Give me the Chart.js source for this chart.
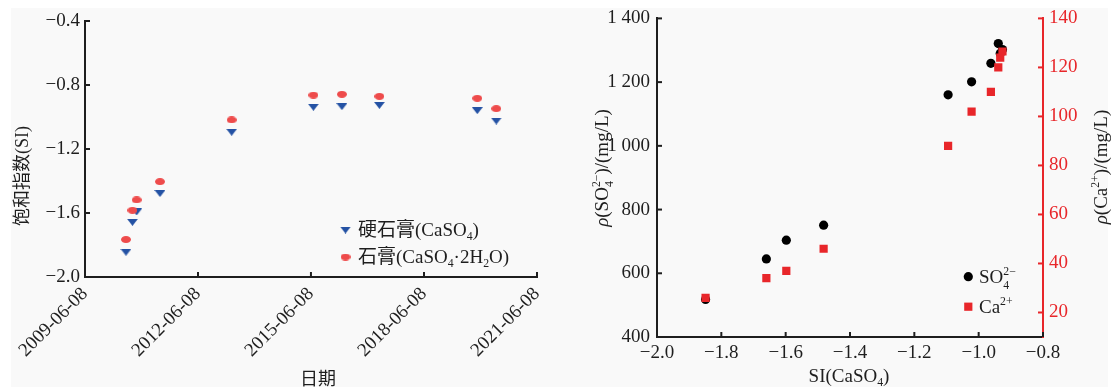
<!DOCTYPE html>
<html><head><meta charset="utf-8">
<script src="https://cdn.jsdelivr.net/npm/chart.js@4.4.1/dist/chart.umd.min.js"></script>
<style>
html,body{margin:0;padding:0;background:#fff;width:1114px;height:389px;overflow:hidden}
#bg{position:absolute;left:11px;top:8px;width:1097px;height:379px;background:#f9f9f9}
#c1{position:absolute;left:0;top:0}
#c2{position:absolute;left:560px;top:0}
</style></head><body>
<div id="bg"></div>
<canvas id="c1" width="560" height="389"></canvas>
<canvas id="c2" width="554" height="389"></canvas>
<script>
// ---------- data: left chart (saturation index vs date) ----------
const sampleDates = ['2010-07-10','2010-09-11','2010-10-22','2011-06-05','2013-04-30','2015-07-02','2016-04-03','2017-04-02','2019-11-07','2020-05-09'];
const siAnhydrite = [-1.845,-1.658,-1.593,-1.478,-1.095,-0.939,-0.935,-0.927,-0.960,-1.025];
const siGypsum    = [-1.766,-1.583,-1.518,-1.404,-1.018,-0.863,-0.858,-0.871,-0.883,-0.948];
const dateTicks = ['2009-06-08','2012-06-08','2015-06-08','2018-06-08','2021-06-08'];
const siTicks = [-2.0,-1.6,-1.2,-0.8,-0.4];
const siTickLabels = ['\u22122.0','\u22121.6','\u22121.2','\u22120.8','\u22120.4'];

// ---------- data: right chart (concentration vs SI(CaSO4)) ----------
const siCaSO4 = [-1.849,-1.660,-1.598,-1.482,-1.095,-1.022,-0.962,-0.939,-0.933,-0.926];
const so4 = [518,645,704,751,1160,1201,1259,1321,1290,1302];
const ca  = [26,34,37,46,88,102,110,120,124,126.5];
const siXTicks = [-2.0,-1.8,-1.6,-1.4,-1.2,-1.0,-0.8];
const siXTickLabels = ['\u22122.0','\u22121.8','\u22121.6','\u22121.4','\u22121.2','\u22121.0','\u22120.8'];
const so4Ticks = [400,600,800,1000,1200,1400];
const so4TickLabels = ['400','600','800','1 000','1 200','1 400'];
const caTicks = [20,40,60,80,100,120,140];
const caTickLabels = ['20','40','60','80','100','120','140'];

// ---------- helpers ----------
const SERIF = '"Liberation Serif","Noto Sans CJK SC",serif';
const BLACK = '#1e1e1e', RED = '#e8262a', BLUE = '#2452a4', PINK = '#ee4b4b';
function parseDate(s){ const p = s.split('-').map(Number); return Date.UTC(p[0], p[1]-1, p[2]); }
function font(sz, it){ return (it ? 'italic ' : '') + sz + 'px ' + SERIF; }
function makeTri(w,h,c){ const cv=document.createElement('canvas'); cv.width=w; cv.height=h; const g=cv.getContext('2d'); g.fillStyle=c; g.beginPath(); g.moveTo(0,0); g.lineTo(w,0); g.lineTo(w/2,h); g.closePath(); g.fill(); return cv; }
function makeEll(w,h,c){ const cv=document.createElement('canvas'); cv.width=w; cv.height=h; const g=cv.getContext('2d'); g.fillStyle=c; g.beginPath(); g.ellipse(w/2,h/2,w/2,h/2,0,0,Math.PI*2); g.fill(); return cv; }
const triStyle = makeTri(11,7,BLUE);
const ellStyle = makeEll(10,7,PINK);

function segWidth(ctx, segs, sz){
  let w = 0;
  for (const s of segs){
    if (s.k === 'ss'){ ctx.font = font(sz*0.62); w += Math.max(ctx.measureText(s.sup).width, ctx.measureText(s.sub).width); }
    else if (s.k === 'sub' || s.k === 'sup'){ ctx.font = font(sz*0.62); w += ctx.measureText(s.t).width; }
    else { ctx.font = font(sz, s.k === 'i'); w += ctx.measureText(s.t).width; }
  }
  return w;
}
function drawRich(ctx, segs, x, y, sz, align, color){
  ctx.save();
  ctx.fillStyle = color; ctx.textBaseline = 'alphabetic'; ctx.textAlign = 'left';
  let cx = align === 'center' ? x - segWidth(ctx, segs, sz)/2 : x;
  for (const s of segs){
    if (s.k === 'ss'){
      ctx.font = font(sz*0.62);
      const w1 = ctx.measureText(s.sup).width, w2 = ctx.measureText(s.sub).width;
      ctx.fillText(s.sup, cx, y - sz*0.40);
      ctx.fillText(s.sub, cx, y + sz*0.30);
      cx += Math.max(w1, w2);
    } else if (s.k === 'sub'){
      ctx.font = font(sz*0.62); ctx.fillText(s.t, cx, y + sz*0.22); cx += ctx.measureText(s.t).width;
    } else if (s.k === 'sup'){
      ctx.font = font(sz*0.62); ctx.fillText(s.t, cx, y - sz*0.40); cx += ctx.measureText(s.t).width;
    } else {
      ctx.font = font(sz, s.k === 'i'); ctx.fillText(s.t, cx, y); cx += ctx.measureText(s.t).width;
    }
  }
  ctx.restore();
}
function drawRichRot(ctx, segs, cx, cy, sz, color){
  ctx.save(); ctx.translate(cx, cy); ctx.rotate(-Math.PI/2);
  drawRich(ctx, segs, 0, sz*0.35, sz, 'center', color);
  ctx.restore();
}
// inward tick marks drawn at the library's tick pixels
const inTicks = {
  id: 'inTicks',
  afterDraw(chart, args, opts){
    const ctx = chart.ctx, a = chart.chartArea;
    for (const id in (opts.axes || {})){
      const s = chart.scales[id], o = opts.axes[id];
      ctx.save(); ctx.strokeStyle = o.color; ctx.lineWidth = 2;
      for (const t of s.ticks){
        const p = s.getPixelForValue(t.value);
        ctx.beginPath();
        if (s.position === 'bottom'){ ctx.moveTo(p, a.bottom); ctx.lineTo(p, a.bottom - 5); }
        else if (s.position === 'left'){ ctx.moveTo(a.left, p); ctx.lineTo(a.left + 5, p); }
        else { ctx.moveTo(a.right, p); ctx.lineTo(a.right - 5, p); }
        ctx.stroke();
      }
      ctx.restore();
    }
  }
};
const annot = {
  id: 'annot',
  afterDraw(chart, args, opts){ if (opts.draw) opts.draw(chart.ctx, chart); }
};
function setTicks(arr){ return function(scale){ scale.ticks = arr.map(v => ({value: v})); }; }
const tickFont = {family: SERIF, size: 19};

// ---------- left chart ----------
new Chart(document.getElementById('c1'), {
  type: 'scatter',
  data: { datasets: [
    { label: '石膏(CaSO4·2H2O)', data: sampleDates.map((d,i)=>({x: parseDate(d), y: siGypsum[i]})), pointStyle: ellStyle, pointRadius: 5, order: 0 },
    { label: '硬石膏(CaSO4)', data: sampleDates.map((d,i)=>({x: parseDate(d), y: siAnhydrite[i]})), pointStyle: triStyle, pointRadius: 5, order: 1 }
  ]},
  options: {
    responsive: false, animation: false, devicePixelRatio: 1,
    layout: { padding: {left: 0, right: 23, top: 21, bottom: 0} },
    plugins: { legend: {display: false}, tooltip: {enabled: false},
      inTicks: { axes: { x: {color: BLACK}, y: {color: BLACK} } },
      annot: { draw(ctx){
        drawRichRot(ctx, [{t:'饱和指数(SI)'}], 22, 176, 18, BLACK);
        drawRich(ctx, [{t:'日期'}], 318, 385, 18, 'center', BLACK);
        ctx.drawImage(triStyle, 345.5 - 5.5, 230 - 3.5);
        ctx.drawImage(ellStyle, 345.5 - 5, 257 - 3.5);
        drawRich(ctx, [{t:'硬石膏(CaSO'},{k:'sub',t:'4'},{t:')'}], 358, 236, 19, 'left', BLACK);
        drawRich(ctx, [{t:'石膏(CaSO'},{k:'sub',t:'4'},{t:'·2H'},{k:'sub',t:'2'},{t:'O)'}], 358, 263, 19, 'left', BLACK);
      } }
    },
    scales: {
      x: { type: 'linear', position: 'bottom', min: parseDate(dateTicks[0]), max: parseDate(dateTicks[dateTicks.length-1]),
        afterBuildTicks: setTicks(dateTicks.map(parseDate)),
        afterFit(s){ s.height = 112; },
        grid: {display: false, drawTicks: false},
        border: {display: true, color: BLACK, width: 2},
        ticks: { autoSkip: false, minRotation: 45, maxRotation: 45, padding: 6, color: BLACK, font: tickFont,
          callback: (v, i) => dateTicks[i] } },
      y: { type: 'linear', position: 'left', min: siTicks[0], max: siTicks[siTicks.length-1],
        afterBuildTicks: setTicks(siTicks),
        afterFit(s){ s.width = 85; },
        grid: {display: false, drawTicks: false},
        border: {display: true, color: BLACK, width: 2},
        ticks: { autoSkip: false, padding: 5, color: BLACK, font: tickFont, callback: (v, i) => siTickLabels[i] } }
    }
  },
  plugins: [inTicks, annot]
});

// ---------- right chart ----------
new Chart(document.getElementById('c2'), {
  type: 'scatter',
  data: { datasets: [
    { label: 'Ca2+', yAxisID: 'y1', data: siCaSO4.map((v,i)=>({x: v, y: ca[i]})), pointStyle: 'rect', pointRadius: 5.8, backgroundColor: RED, borderWidth: 0, order: 0 },
    { label: 'SO42-', yAxisID: 'y', data: siCaSO4.map((v,i)=>({x: v, y: so4[i]})), pointStyle: 'circle', pointRadius: 4.6, backgroundColor: '#000', borderWidth: 0, order: 1 }
  ]},
  options: {
    responsive: false, animation: false, devicePixelRatio: 1,
    layout: { padding: {left: 0, right: 0, top: 15, bottom: 0} },
    plugins: { legend: {display: false}, tooltip: {enabled: false},
      inTicks: { axes: { x: {color: BLACK}, y: {color: BLACK}, y1: {color: RED} } },
      annot: { draw(ctx){
        drawRichRot(ctx, [{k:'i',t:'ρ'},{t:'(SO'},{k:'ss',sup:'2\u2212',sub:'4'},{t:')/(mg/L)'}], 41, 168, 19, BLACK);
        drawRichRot(ctx, [{k:'i',t:'ρ'},{t:'(Ca'},{k:'sup',t:'2+'},{t:')/(mg/L)'}], 540, 167, 19, BLACK);
        drawRich(ctx, [{t:'SI(CaSO'},{k:'sub',t:'4'},{t:')'}], 289, 382, 19, 'center', BLACK);
        ctx.save();
        ctx.fillStyle = '#000'; ctx.beginPath(); ctx.arc(408.3, 276.7, 4.6, 0, Math.PI*2); ctx.fill();
        ctx.fillStyle = RED; ctx.fillRect(408.3 - 4.1, 306.7 - 4.1, 8.2, 8.2);
        ctx.restore();
        drawRich(ctx, [{t:'SO'},{k:'ss',sup:'2\u2212',sub:'4'}], 419, 283, 19, 'left', BLACK);
        drawRich(ctx, [{t:'Ca'},{k:'sup',t:'2+'}], 419, 313, 19, 'left', BLACK);
      } }
    },
    scales: {
      x: { type: 'linear', position: 'bottom', min: siXTicks[0], max: siXTicks[siXTicks.length-1],
        afterBuildTicks: setTicks(siXTicks),
        afterFit(s){ s.height = 52; },
        grid: {display: false, drawTicks: false},
        border: {display: true, color: BLACK, width: 2},
        ticks: { autoSkip: false, maxRotation: 0, padding: 5, color: BLACK, font: tickFont, callback: (v, i) => siXTickLabels[i] } },
      y: { type: 'linear', position: 'left', min: so4Ticks[0], max: so4Ticks[so4Ticks.length-1],
        afterBuildTicks: setTicks(so4Ticks),
        afterFit(s){ s.width = 97; },
        grid: {display: false, drawTicks: false},
        border: {display: true, color: BLACK, width: 2},
        ticks: { autoSkip: false, padding: 7, color: BLACK, font: tickFont, callback: (v, i) => so4TickLabels[i] } },
      y1: { type: 'linear', position: 'right', min: 10, max: caTicks[caTicks.length-1],
        afterBuildTicks: setTicks(caTicks),
        afterFit(s){ s.width = 71; },
        grid: {display: false, drawTicks: false},
        border: {display: true, color: RED, width: 2},
        ticks: { autoSkip: false, padding: 6, color: RED, font: tickFont, callback: (v, i) => caTickLabels[i] } }
    }
  },
  plugins: [inTicks, annot]
});
</script>
</body></html>
